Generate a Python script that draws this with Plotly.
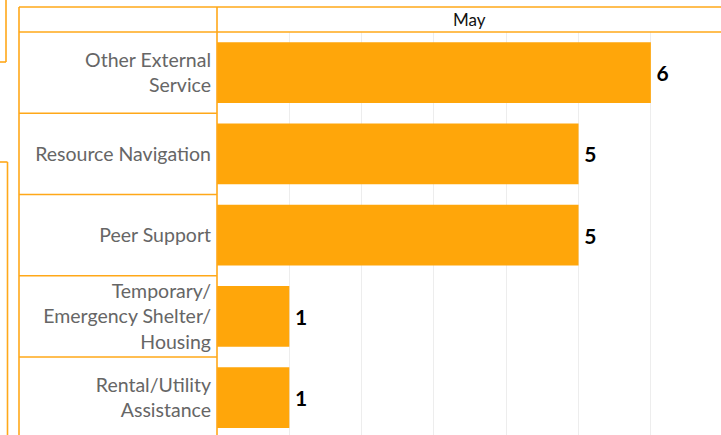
import plotly.graph_objects as go

# ---- data ----
categories = [
    "Other External<br>Service",
    "Resource Navigation",
    "Peer Support",
    "Temporary/<br>Emergency Shelter/<br>Housing",
    "Rental/Utility<br>Assistance",
]
values = [6, 5, 5, 1, 1]
column_header = "May"

# ---- style ----
W, H = 721, 435
L, T = 217, 32
BAR = "#FFA60A"
LINE = "#FFA819"
FONT = "Lato"
Y_RANGE = [4.46, -0.5]
X_RANGE = [0, 6.97]

fig = go.Figure(
    go.Bar(
        y=categories,
        x=values,
        orientation="h",
        marker=dict(color=BAR, line=dict(width=0)),
        width=0.75,
        text=values,
        texttemplate="\u2009%{x}",
        textposition="outside",
        textfont=dict(family=FONT, size=21, color="#000000", weight="bold"),
        cliponaxis=False,
        hoverinfo="skip",
    )
)

def px_to_paper_x(p):
    return (p - L) / (W - L)

def px_to_paper_y(p):
    return (H - p) / (H - T)

unit = (H - T) / (Y_RANGE[0] - Y_RANGE[1])
def val_to_px_y(v):
    return T + (v - Y_RANGE[1]) * unit

shapes = []
def hline(y_px, x0_px, x1_px):
    shapes.append(dict(type="line", xref="paper", yref="paper",
                       x0=px_to_paper_x(x0_px), x1=px_to_paper_x(x1_px),
                       y0=px_to_paper_y(y_px), y1=px_to_paper_y(y_px),
                       line=dict(color=LINE, width=1.6)))
def vline(x_px, y0_px, y1_px):
    shapes.append(dict(type="line", xref="paper", yref="paper",
                       x0=px_to_paper_x(x_px), x1=px_to_paper_x(x_px),
                       y0=px_to_paper_y(y0_px), y1=px_to_paper_y(y1_px),
                       line=dict(color=LINE, width=1.6)))

# table frame
hline(7, 19, W + 2)
hline(32, 19, W + 2)
vline(19, 7, H + 2)
vline(217, 7, H + 2)
for i in range(len(categories) - 1):
    hline(val_to_px_y(i + 0.5), 19, 217)
# partial neighbouring frames on far left
vline(6, -2, 62)
hline(62, -2, 6)
vline(7.5, 162, H + 2)
hline(162, -2, 7.5)

fig.update_layout(
    width=W,
    height=H,
    margin=dict(l=L, r=0, t=T, b=0),
    paper_bgcolor="white",
    plot_bgcolor="white",
    showlegend=False,
    font=dict(family=FONT),
    shapes=shapes,
    annotations=[
        dict(text=column_header, xref="paper", yref="paper",
             x=0.5, y=px_to_paper_y(20), showarrow=False,
             xanchor="center", yanchor="middle",
             font=dict(family=FONT, size=17, color="#111111")),
    ],
    xaxis=dict(range=X_RANGE, dtick=1, showgrid=True, gridcolor="#EDEDED",
               gridwidth=1, zeroline=False, showticklabels=False,
               showline=False, fixedrange=True),
    yaxis=dict(range=Y_RANGE, categoryorder="array", categoryarray=categories,
               showgrid=False, zeroline=False, showline=False, ticks="",
               ticklabelstandoff=5, fixedrange=True,
               tickfont=dict(family=FONT, size=19.5, color="#666666")),
)

fig.write_html(
    "out.html",
    config={"displayModeBar": False, "staticPlot": True},
    post_script="document.body.style.margin='0';document.body.style.overflow='hidden';",
)
